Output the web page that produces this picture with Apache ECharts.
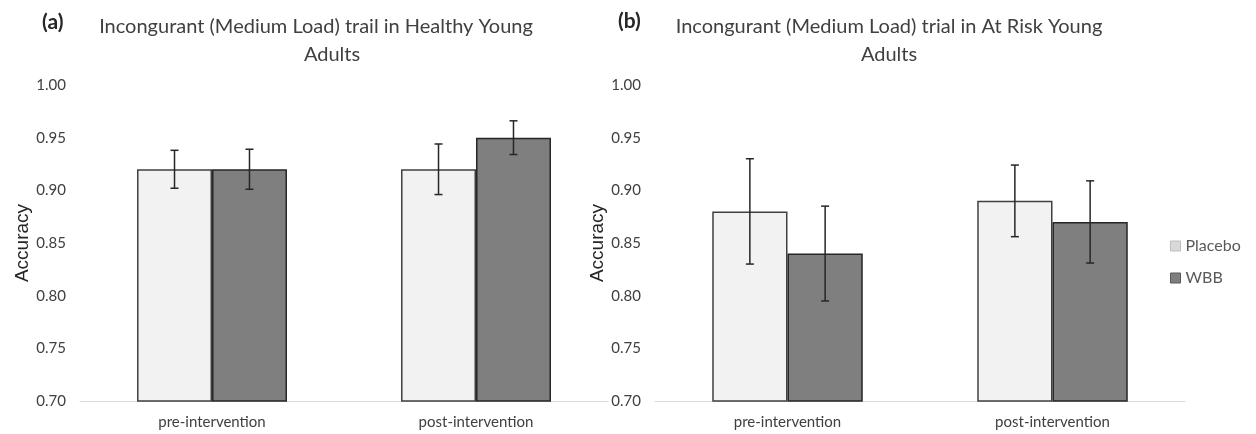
<!DOCTYPE html>
<html>
<head>
<meta charset="utf-8">
<script src="https://cdn.jsdelivr.net/npm/echarts@6/dist/echarts.min.js"></script>
<style>
  html, body { margin: 0; padding: 0; background: #fff; }
  #chart { width: 1256px; height: 434px; }
</style>
</head>
<body>
<div id="chart"></div>
<script>
const categories = ['pre-intervention', 'post-intervention'];
const yTicks = [0.7, 1.0, 0.05];

// (a) Healthy young adults
const healthyPlacebo = [0.92, 0.92];
const healthyPlaceboErr = [0.018, 0.024];
const healthyWBB = [0.92, 0.95];
const healthyWBBErr = [0.019, 0.016];

// (b) At risk young adults
const atRiskPlacebo = [0.88, 0.89];
const atRiskPlaceboErr = [0.05, 0.034];
const atRiskWBB = [0.84, 0.87];
const atRiskWBBErr = [0.045, 0.039];

const font = 'Lato, "Noto Sans", sans-serif';
const barRatio = 0.284;

const chart = echarts.init(document.getElementById('chart'));

function errData(values, errs, side) {
  return values.map((v, i) => [i, v, errs[i], side]);
}

function renderErr(params, api) {
  const i = api.value(0);
  const v = api.value(1);
  const e = api.value(2);
  const side = api.value(3);
  const band = api.size([1, 0])[0];
  const bw = band * barRatio;
  const cx = api.coord([i, v])[0] + side * bw / 2;
  const top = api.coord([i, v + e])[1];
  const bot = api.coord([i, v - e])[1];
  const cap = 4;
  const style = { stroke: '#262626', lineWidth: 1.5 };
  return {
    type: 'group',
    children: [
      { type: 'line', shape: { x1: cx, y1: top, x2: cx, y2: bot }, style },
      { type: 'line', shape: { x1: cx - cap, y1: top, x2: cx + cap, y2: top }, style },
      { type: 'line', shape: { x1: cx - cap, y1: bot, x2: cx + cap, y2: bot }, style },
    ],
  };
}

const placeboStyle = { color: '#f2f2f2', borderColor: '#404040', borderWidth: 1.5 };
const wbbStyle = { color: '#7f7f7f', borderColor: '#262626', borderWidth: 1.5 };

function xAxis(gridIndex) {
  return {
    type: 'category',
    gridIndex,
    data: categories,
    axisLine: { lineStyle: { color: '#d9d9d9', width: 1 } },
    axisTick: { show: false },
    axisLabel: { color: '#404040', fontSize: 15, fontFamily: font, margin: 14 },
  };
}

function yAxis(gridIndex) {
  return {
    type: 'value',
    gridIndex,
    min: yTicks[0],
    max: yTicks[1],
    interval: yTicks[2],
    name: 'Accuracy',
    nameLocation: 'middle',
    nameGap: 48,
    nameTextStyle: { color: '#262626', fontSize: 19, fontFamily: '"Liberation Sans", Arial, sans-serif' },
    axisLine: { show: false },
    axisTick: { show: false },
    splitLine: { show: false },
    axisLabel: {
      color: '#404040',
      fontSize: 15,
      fontFamily: font,
      margin: 14,
      formatter: (v) => v.toFixed(2),
    },
  };
}

function barSeries(name, values, style, idx) {
  return {
    name,
    type: 'bar',
    xAxisIndex: idx,
    yAxisIndex: idx,
    data: values,
    barWidth: (barRatio * 100) + '%',
    barGap: '0%',
    itemStyle: style,
    emphasis: { disabled: true },
  };
}

function errSeries(values, errs, side, idx) {
  return {
    type: 'custom',
    xAxisIndex: idx,
    yAxisIndex: idx,
    renderItem: renderErr,
    encode: { x: 0, y: 1 },
    data: errData(values, errs, side),
    z: 5,
    silent: true,
  };
}

const titleStyle = { fontSize: 20, fontWeight: 'normal', color: '#404040', fontFamily: font };
const tagStyle = { fontSize: 21, fontWeight: 'bold', color: '#262626', fontFamily: font };

const option = {
  animation: false,
  textStyle: { fontFamily: font },
  title: [
    { text: '(a)', left: 37, top: 7, textStyle: tagStyle },
    { text: 'Incongurant (Medium Load) trail in Healthy Young', left: 311, top: 12, textAlign: 'center', textStyle: titleStyle },
    { text: 'Adults', left: 327, top: 40, textAlign: 'center', textStyle: titleStyle },
    { text: '(b)', left: 613, top: 6, textStyle: tagStyle },
    { text: 'Incongurant (Medium Load) trial in At Risk Young', left: 884, top: 12, textAlign: 'center', textStyle: titleStyle },
    { text: 'Adults', left: 884, top: 40, textAlign: 'center', textStyle: titleStyle },
  ],
  legend: {
    orient: 'vertical',
    left: 1165,
    top: 233,
    itemWidth: 10,
    itemHeight: 10,
    itemGap: 16,
    icon: 'rect',
    textStyle: { color: '#595959', fontSize: 16, fontFamily: font },
    data: [
      { name: 'Placebo', itemStyle: { color: '#d9d9d9', borderColor: '#bfbfbf', borderWidth: 1 } },
      { name: 'WBB', itemStyle: { color: '#7f7f7f', borderColor: '#595959', borderWidth: 1 } },
    ],
  },
  grid: [
    { left: 80, right: 648, top: 85, bottom: 33 },
    { left: 655, right: 71, top: 85, bottom: 33 },
  ],
  xAxis: [xAxis(0), xAxis(1)],
  yAxis: [yAxis(0), yAxis(1)],
  series: [
    barSeries('Placebo', healthyPlacebo, placeboStyle, 0),
    barSeries('WBB', healthyWBB, wbbStyle, 0),
    errSeries(healthyPlacebo, healthyPlaceboErr, -1, 0),
    errSeries(healthyWBB, healthyWBBErr, 1, 0),
    barSeries('Placebo', atRiskPlacebo, placeboStyle, 1),
    barSeries('WBB', atRiskWBB, wbbStyle, 1),
    errSeries(atRiskPlacebo, atRiskPlaceboErr, -1, 1),
    errSeries(atRiskWBB, atRiskWBBErr, 1, 1),
  ],
};

chart.setOption(option);
</script>
</body>
</html>
